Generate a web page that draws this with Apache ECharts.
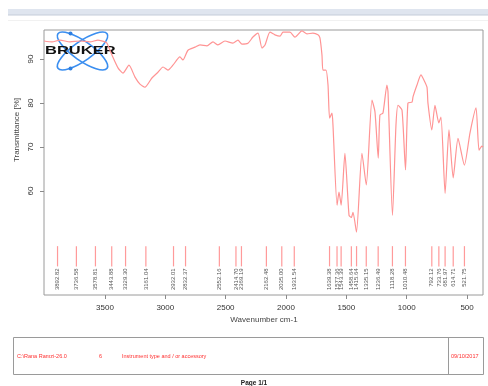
<!DOCTYPE html>
<html>
<head>
<meta charset="utf-8">
<script src="https://cdn.jsdelivr.net/npm/echarts@6/dist/echarts.min.js"></script>
<style>
  html, body { margin: 0; padding: 0; background: #fff; }
  #chart { width: 488px; height: 386px; }
</style>
</head>
<body>
<div id="chart"></div>
<script>
// IR spectrum: wavenumber (cm-1) and transmittance (%)
const wavenumber = [
  4005, 3939, 3873, 3790, 3707, 3624, 3558, 3500, 3483, 3442, 3392, 3351, 3301, 3251, 3210, 3169,
  3111, 3061, 3019, 2978, 2937, 2879, 2854, 2812, 2754, 2713, 2655, 2605, 2564, 2506, 2440, 2398,
  2365, 2315, 2274, 2232, 2199, 2174, 2133, 2092, 2050, 2025, 1967, 1926, 1868, 1826, 1777, 1735,
  1719, 1702, 1694, 1669, 1652, 1639, 1619, 1611, 1577, 1561, 1543, 1512, 1478, 1459, 1445, 1416,
  1371, 1335, 1288, 1263, 1236, 1222, 1197, 1164, 1155, 1118, 1089, 1072, 1039, 1010, 990, 956,
  948, 915, 882, 857, 832, 824, 792, 766, 734, 716, 682, 650, 615, 575, 522, 476, 426, 401, 377, 368
];
const transmittance = [
  94.1, 93.9, 94.3, 93.9, 94.1, 93.9, 94.3, 93.9, 93.6, 90.9, 88.0, 86.8, 88.6, 85.9, 84.3, 83.6,
  85.7, 87.0, 88.2, 87.5, 88.6, 90.5, 89.8, 92.0, 92.7, 93.2, 93.0, 93.9, 93.2, 94.1, 93.6, 94.3,
  93.4, 93.6, 95.0, 95.9, 92.5, 93.2, 96.1, 95.5, 95.2, 96.1, 96.1, 95.0, 96.4, 95.7, 95.9, 95.5,
  94.8, 90.9, 87.5, 87.5, 84.1, 76.6, 77.7, 75.0, 56.8, 59.8, 56.8, 68.6, 54.5, 54.0, 55.2, 50.7,
  68.6, 61.4, 80.7, 78.0, 67.5, 77.3, 77.7, 84.1, 82.5, 54.5, 75.0, 79.5, 78.4, 64.8, 80.0, 80.2,
  81.4, 84.1, 86.4, 85.2, 83.6, 80.0, 73.9, 79.5, 75.5, 76.8, 59.5, 73.9, 63.0, 72.0, 65.9, 73.2,
  78.9, 69.3, 70.2, 70.0
];

// Picked peak positions, as printed under the spectrum
const peakLabels = [
  '3892.82', '3736.58', '3578.81', '3443.88', '3329.30', '3161.04', '2932.01', '2832.37',
  '2552.16', '2414.70', '2369.19', '2162.48', '2035.00', '1931.54', '1639.38', '1577.36',
  '1543.39', '1458.64', '1415.64', '1335.15', '1236.49', '1118.28', '1010.48', '792.12',
  '733.76', '681.97', '614.71', '521.75'
];
const peakValues = peakLabels.map(Number);

// Axis ticks
const xTicks = [500, 1000, 1500, 2000, 2500, 3000, 3500];
const yTicks = [60, 70, 80, 90];

// Vertical band (in %T) where the peak pick markers sit
const MARK_TOP = 47.5;
const MARK_BOTTOM = 42.9;

const spectrum = wavenumber.map((w, i) => [w, transmittance[i]]);
const peaks = peakValues.map((w) => [w]);

const FONT = 'Liberation Sans, Arial, sans-serif';
const chart = echarts.init(document.getElementById('chart'));

chart.setOption({
  backgroundColor: '#ffffff',
  animation: false,
  grid: {
    left: 44, top: 30, right: 5, bottom: 91,
    show: true, borderColor: '#9a9a9a', borderWidth: 1, backgroundColor: 'transparent'
  },
  xAxis: {
    type: 'value',
    inverse: true,
    min: 368,
    max: 4005,
    axisLine: { show: false },
    splitLine: { show: false },
    axisTick: { show: true, length: 4, lineStyle: { color: '#8a8a8a' }, customValues: xTicks },
    axisLabel: {
      customValues: xTicks, color: '#333', fontSize: 8, fontFamily: FONT, margin: 9,
      formatter: (v) => String(v)
    }
  },
  yAxis: {
    type: 'value',
    min: 36.4,
    max: 96.6,
    axisLine: { show: false },
    splitLine: { show: false },
    axisTick: { show: true, length: 4, lineStyle: { color: '#8a8a8a' }, customValues: yTicks },
    axisLabel: {
      customValues: yTicks, color: '#333', fontSize: 8, fontFamily: FONT, rotate: 90, margin: 9,
      formatter: (v) => String(v)
    }
  },
  series: [
    {
      type: 'line',
      data: spectrum,
      showSymbol: false,
      smooth: 0.2,
      lineStyle: { color: '#ff9494', width: 1.2 },
      z: 2
    },
    {
      type: 'custom',
      data: peaks,
      z: 3,
      renderItem: function (params, api) {
        const w = api.value(0);
        const top = api.coord([w, MARK_TOP]);
        const bot = api.coord([w, MARK_BOTTOM]);
        return {
          type: 'group',
          children: [
            {
              type: 'line',
              shape: { x1: top[0], y1: top[1], x2: bot[0], y2: bot[1] },
              style: { stroke: '#ff9a9a', lineWidth: 1.2 }
            },
            {
              type: 'text',
              x: bot[0],
              y: bot[1] + 2,
              rotation: Math.PI / 2,
              style: {
                text: peakLabels[params.dataIndex],
                align: 'right',
                verticalAlign: 'middle',
                font: '6px ' + FONT,
                fill: '#555'
              }
            }
          ]
        };
      }
    }
  ],
  graphic: [
    // page header band
    { type: 'rect', shape: { x: 8, y: 9, width: 480, height: 6 }, style: { fill: '#dfe5ef' }, silent: true },
    { type: 'line', shape: { x1: 8, y1: 15, x2: 488, y2: 15 }, style: { stroke: '#c4ccd9', lineWidth: 1 }, silent: true },
    { type: 'line', shape: { x1: 8, y1: 20.5, x2: 488, y2: 20.5 }, style: { stroke: '#f1f1f1', lineWidth: 1 }, silent: true },

    // axis titles
    {
      type: 'text', x: 17, y: 130, rotation: Math.PI / 2,
      style: { text: 'Transmittance [%]', align: 'center', verticalAlign: 'middle', font: '8px ' + FONT, fill: '#444' }
    },
    {
      type: 'text', x: 264, y: 320,
      style: { text: 'Wavenumber cm-1', align: 'center', verticalAlign: 'middle', font: '8px ' + FONT, fill: '#444' }
    },

    // logo
    {
      type: 'group', z: 10,
      children: [
        { type: 'ellipse', shape: { cx: 0, cy: 0, rx: 30, ry: 9.5 }, x: 82.5, y: 51, rotation: 0.61,
          style: { fill: 'none', stroke: '#3a8ef0', lineWidth: 1.6 } },
        { type: 'ellipse', shape: { cx: 0, cy: 0, rx: 30, ry: 9.5 }, x: 82.5, y: 51, rotation: -0.61,
          style: { fill: 'none', stroke: '#3a8ef0', lineWidth: 1.6 } },
        { type: 'circle', shape: { cx: 70.5, cy: 33.5, r: 2 }, style: { fill: '#2f7fe0' } },
        { type: 'circle', shape: { cx: 70.5, cy: 68.5, r: 2 }, style: { fill: '#2f7fe0' } },
        { type: 'text', x: 45, y: 51, scaleX: 1.5,
          style: { text: 'BRUKER', align: 'left', verticalAlign: 'middle', font: 'bold 11px ' + FONT, fill: '#111' } }
      ]
    },

    // footer box
    { type: 'rect', shape: { x: 13.5, y: 337.5, width: 470, height: 37 }, style: { fill: 'none', stroke: '#9a9a9a', lineWidth: 1 } },
    { type: 'line', shape: { x1: 448.5, y1: 337.5, x2: 448.5, y2: 374.5 }, style: { stroke: '#9a9a9a', lineWidth: 1 } },
    { type: 'text', x: 17, y: 356, style: { text: 'C:\\Rana Ramzi-26.0', verticalAlign: 'middle', font: '5.5px ' + FONT, fill: '#ff3030' } },
    { type: 'text', x: 99, y: 356, style: { text: '6', verticalAlign: 'middle', font: '5.5px ' + FONT, fill: '#ff3030' } },
    { type: 'text', x: 122, y: 356, style: { text: 'Instrument type and / or accessory', verticalAlign: 'middle', font: '5.5px ' + FONT, fill: '#ff3030' } },
    { type: 'text', x: 451, y: 356, style: { text: '09/10/2017', verticalAlign: 'middle', font: '5.5px ' + FONT, fill: '#ff3030' } },
    { type: 'text', x: 254, y: 383, style: { text: 'Page 1/1', align: 'center', verticalAlign: 'middle', font: 'bold 6.5px ' + FONT, fill: '#222' } }
  ]
});
</script>
</body>
</html>
